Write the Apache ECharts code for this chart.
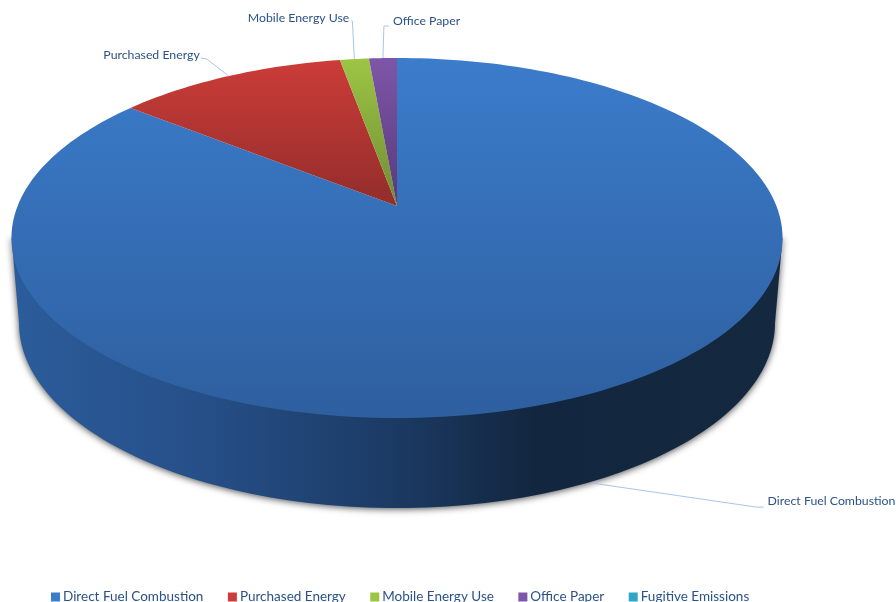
<!DOCTYPE html>
<html><head><meta charset="utf-8">
<style>html,body{margin:0;padding:0;background:#fff}#c{width:896px;height:602px}</style>
<script src="https://cdn.jsdelivr.net/npm/echarts@6/dist/echarts.min.js"></script>
</head><body><div id="c"></div>
<script>
var categories = ['Direct Fuel Combustion','Purchased Energy','Mobile Energy Use','Office Paper','Fugitive Emissions'];
var values = [85.75, 11.42, 1.44, 1.39, 0];
var colors = ['#3b7ccb','#cc3c38','#9dc544','#7e56a8','#2ea6c4'];
var colorsDark = ['#2e5f9f','#922d2b','#6f8c33','#573a78','#1f7a90'];

// perspective projection of the pie's top disc
var CX=397, K=-0.1778, A=137.7, B=206, C=379.4;
var DEPTH=90, TOPC={x:397,y:238,rx:385.5,ry:180}, BOTC={x:397,y:323,rx:378,ry:185};
function proj(th){var u=Math.sin(th),v=-Math.cos(th),d=1+K*v;return [CX+C*u/d,(A*v+B)/d];}
var total=values.reduce(function(a,b){return a+b;},0);
function range(i){var s=0;for(var j=0;j<i;j++)s+=values[j];
  return [s/total*2*Math.PI,(s+values[i])/total*2*Math.PI];}

// label layout: leader elbow offsets from the slice's mid-edge anchor, and text offset
var labelLayout = [
 {dy:DEPTH, bend:[164,24], end:[171,24], text:[175,18], align:'left'},
 {dy:0, bend:[-22,-17], end:[-28,-18], text:[-29,-21], align:'right'},
 {dy:0, bend:[-2,-38], end:[-3,-39], text:[-5,-41], align:'right'},
 {dy:0, bend:[1,-32], end:[6,-32], text:[10,-37], align:'left'}
];

function wall(){
  var pts=[[TOPC.x-TOPC.rx,TOPC.y]],n=120,i,t;
  // upper edge sits just inside the disc so no seam shows along the rim
  for(i=0;i<=n;i++){t=Math.PI*i/n;pts.push([TOPC.x-(TOPC.rx-4)*Math.cos(t),TOPC.y+(TOPC.ry-4)*Math.sin(t)]);}
  pts.push([TOPC.x+TOPC.rx,TOPC.y]);
  for(i=n;i>=0;i--){t=Math.PI*i/n;pts.push([BOTC.x-BOTC.rx*Math.cos(t),BOTC.y+BOTC.ry*Math.sin(t)]);}
  return {type:'polygon',shape:{points:pts},style:{
    fill:new echarts.graphic.LinearGradient(0,0,1,0,[
      {offset:0,color:'#2b5c9b'},{offset:.25,color:'#264f88'},{offset:.5,color:'#1b3a63'},
      {offset:.68,color:'#12263f'},{offset:1,color:'#14283f'}]),
    shadowBlur:7,shadowColor:'rgba(0,0,0,.7)',shadowOffsetY:1}};
}
function makeRender(idx){
  return function(params,api){
    var children=[];
    if(values[idx]<=0) return {type:'group',children:children};
    var r=range(idx),pts=[[CX,B]],n=Math.max(8,Math.ceil((r[1]-r[0])*40));
    for(var i=0;i<=n;i++)pts.push(proj(r[0]+(r[1]-r[0])*i/n));
    if(idx===0)children.push(wall());
    children.push({type:'polygon',shape:{points:pts},style:{
      fill:new echarts.graphic.LinearGradient(0,0,0,1,[
        {offset:0,color:colors[idx]},{offset:1,color:colorsDark[idx]}])}});
    var L=labelLayout[idx];
    if(L){
      var a=proj((r[0]+r[1])/2);a=[a[0],a[1]+L.dy];
      children.push({type:'polyline',shape:{points:[a,[a[0]+L.bend[0],a[1]+L.bend[1]],[a[0]+L.end[0],a[1]+L.end[1]]]},
        style:{fill:null,stroke:'#a8c6ea',lineWidth:1},z2:5});
      children.push({type:'text',x:a[0]+L.text[0],y:a[1]+L.text[1],z2:6,style:{
        text:categories[idx],fill:'#2b5288',font:'12.3px Lato',align:L.align,verticalAlign:'middle'}});
    }
    return {type:'group',children:children};
  };
}
var series=categories.map(function(name,i){
  return {type:'custom',name:name,coordinateSystem:'none',silent:true,animation:false,
    z:i===0?1:2,clip:false,itemStyle:{color:colors[i]},data:[[values[i]]],renderItem:makeRender(i)};
});
var chart=echarts.init(document.getElementById('c'),null,{renderer:'canvas'});
chart.setOption({
  animation:false,backgroundColor:'#fff',color:colors,
  legend:{data:categories,left:46,top:585,icon:'rect',itemWidth:9,itemHeight:9,itemGap:24.5,
    selectedMode:false,textStyle:{color:'#2b5288',fontFamily:'Lato',fontSize:13.5,padding:[0,0,0,-2]}},
  series:series
});
</script></body></html>
